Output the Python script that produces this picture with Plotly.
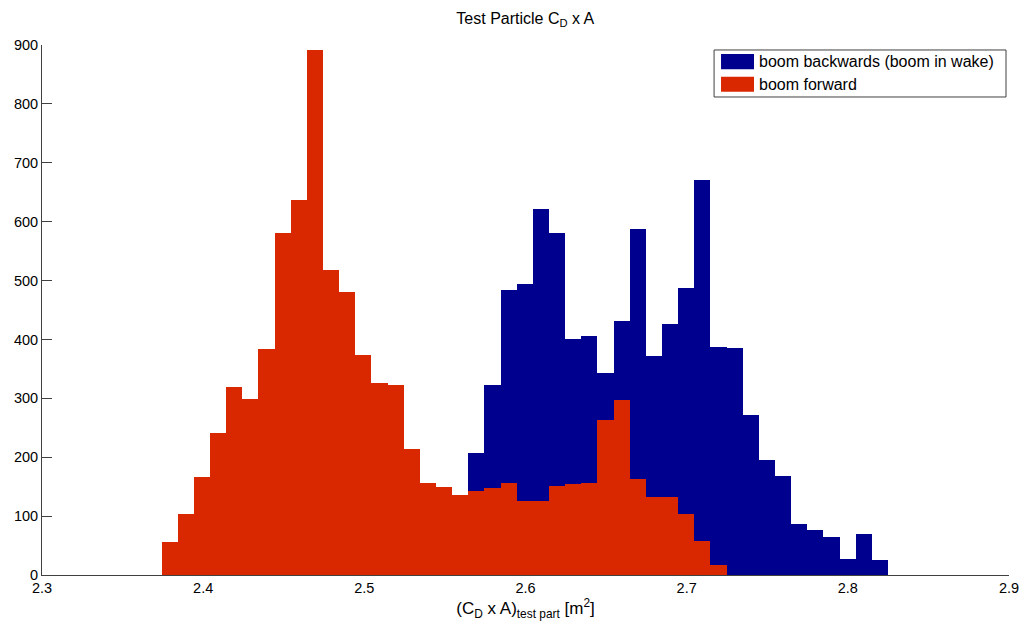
import numpy as np
import plotly.graph_objects as go

# Histogram bins (common grid for both series)
bin_start = 2.3742
bin_width = 0.010016
n_bins = 45

# boom forward (red), bins 0..34
forward_counts = [56, 103, 167, 241, 319, 299, 384, 581, 637, 892,
                  518, 481, 374, 326, 322, 214, 157, 149, 136, 143,
                  148, 157, 126, 126, 151, 154, 157, 264, 298, 163,
                  132, 133, 104, 57, 17]
forward_first_bin = 0

# boom backwards (blue), bins 19..44
backward_counts = [207, 323, 484, 494, 621, 580, 400, 406, 343, 431,
                   587, 372, 426, 487, 671, 387, 385, 271, 196, 168,
                   86, 76, 65, 27, 70, 26]
backward_first_bin = 19

x_ticks = [2.3, 2.4, 2.5, 2.6, 2.7, 2.8, 2.9]
y_ticks = [0, 100, 200, 300, 400, 500, 600, 700, 800, 900]

series_names = ["boom backwards (boom in wake)", "boom forward"]
blue = "#00008F"
red = "#D92800"

centers = bin_start + bin_width * (np.arange(n_bins) + 0.5)
x_fwd = centers[forward_first_bin:forward_first_bin + len(forward_counts)]
x_bwd = centers[backward_first_bin:backward_first_bin + len(backward_counts)]

fig = go.Figure()
fig.add_trace(go.Bar(x=x_bwd, y=backward_counts, width=bin_width,
                     marker=dict(color=blue, line=dict(width=0)),
                     name=series_names[0], showlegend=False))
fig.add_trace(go.Bar(x=x_fwd, y=forward_counts, width=bin_width,
                     marker=dict(color=red, line=dict(width=0)),
                     name=series_names[1], showlegend=False))

font_family = "Liberation Sans, Arial, Helvetica, sans-serif"

fig.update_layout(
    width=1023, height=621,
    margin=dict(l=42, r=14, t=45, b=46, autoexpand=False),
    paper_bgcolor="white", plot_bgcolor="white",
    barmode="overlay", bargap=0,
    font=dict(family=font_family, size=14, color="black"),
    title=dict(text="Test Particle C<sub>D</sub> x A", x=0.5135, xanchor="center",
               y=0.971, yanchor="middle", font=dict(size=16, color="black")),
)

fig.update_xaxes(range=[2.3, 2.9], tickvals=x_ticks, ticktext=[f"{v:.1f}" for v in x_ticks],
                 showgrid=False, zeroline=False, showline=True, linecolor="#404040", linewidth=1,
                 ticks="inside", ticklen=10, tickcolor="#404040", layer="below traces",
                 tickfont=dict(size=14.5),
                 title=dict(text="(C<sub>D</sub> x A)<sub>test part</sub> [m<sup>2</sup>]",
                            font=dict(size=17), standoff=0))
fig.update_yaxes(range=[0, 900], tickvals=y_ticks, showgrid=False, zeroline=False,
                 showline=True, linecolor="#404040", linewidth=1,
                 ticks="inside", ticklen=10, tickcolor="#404040", tickfont=dict(size=14.5))

# Custom legend (box, swatches, labels)
fig.add_shape(type="rect", xref="paper", yref="paper", x0=0.695, x1=0.9969, y0=0.9019, y1=0.9906,
              line=dict(color="#404040", width=1), fillcolor="white", layer="above")
fig.add_shape(type="rect", xref="paper", yref="paper", x0=0.7022, x1=0.7363, y0=0.9542, y1=0.983,
              line=dict(width=0), fillcolor=blue, layer="above")
fig.add_shape(type="rect", xref="paper", yref="paper", x0=0.7022, x1=0.7363, y0=0.9119, y1=0.9402,
              line=dict(width=0), fillcolor=red, layer="above")
fig.add_annotation(xref="paper", yref="paper", x=0.7394, y=0.9689, text=series_names[0],
                   showarrow=False, xanchor="left", yanchor="middle", font=dict(size=16))
fig.add_annotation(xref="paper", yref="paper", x=0.7394, y=0.9264, text=series_names[1],
                   showarrow=False, xanchor="left", yanchor="middle", font=dict(size=16))

fig.write_html("out.html", config={"displayModeBar": False},
               post_script="document.body.style.margin='0px';document.body.style.overflow='hidden';")
